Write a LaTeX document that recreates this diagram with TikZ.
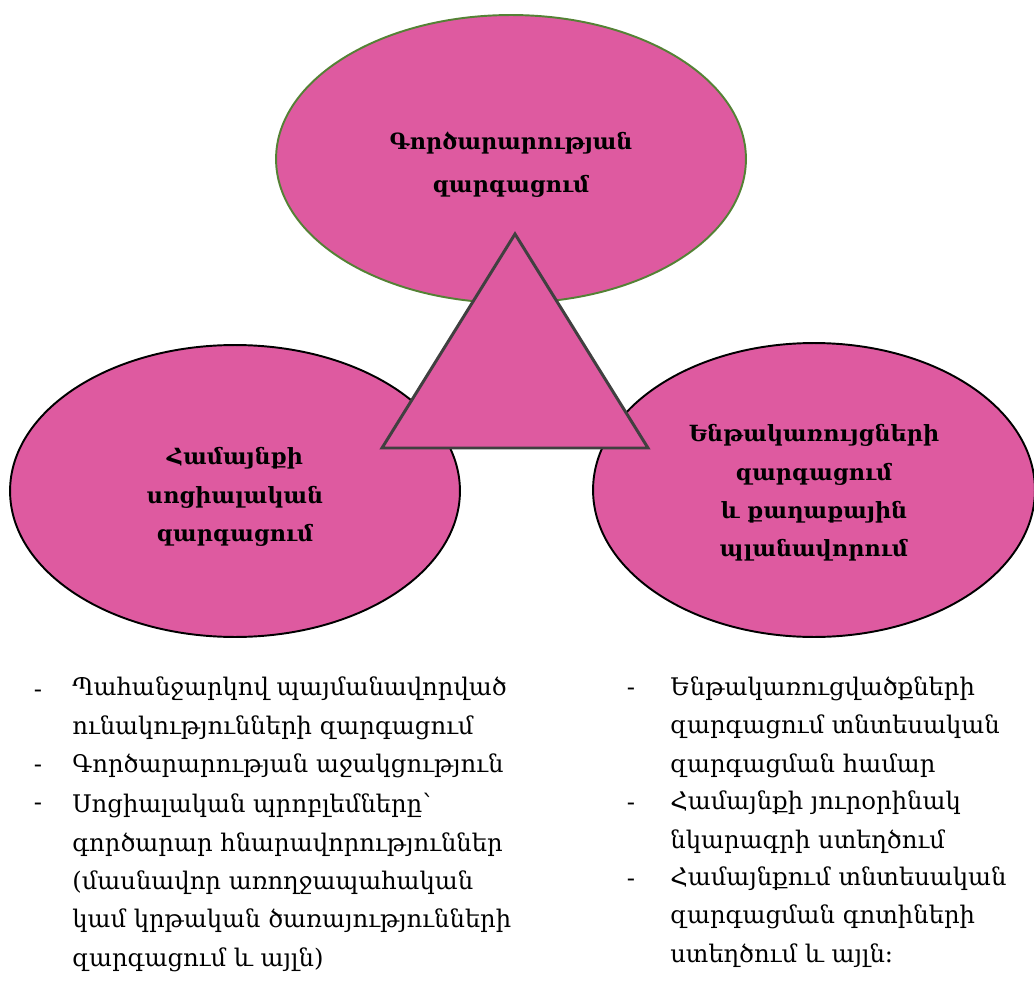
\documentclass[tikz,border=0pt]{standalone}
\usepackage{fontspec}
\setmainfont{DejaVu Serif}
\usetikzlibrary{shapes.geometric,positioning}

\definecolor{blobpink}{RGB}{222,90,160}
\definecolor{rimgreen}{RGB}{84,130,53}
\definecolor{rimgray}{RGB}{64,64,64}

\tikzset{
  blob/.style={ellipse, draw=black, line width=1.1pt, fill=blobpink,
    inner sep=0pt},
  blobtext/.style={align=center, inner sep=0pt,
    font=\bfseries\fontsize{12.7}{21.8}\selectfont},
  listitem/.style={anchor=base west, align=left, inner sep=0pt,
    font=\fontsize{13.8}{21.8}\selectfont},
  itemdash/.style={anchor=base, inner sep=0pt,
    font=\fontsize{13.8}{21.8}\selectfont}
}

\begin{document}
\begin{tikzpicture}[x=0.02cm, y=-0.02cm]
    \useasboundingbox (0, 0) rectangle (1034, 983);

    % the three fields
    \node [blob, draw=rimgreen, minimum width=9.4cm, minimum height=5.76cm]
      (biz) at (511, 159) {};
    \node [blob, minimum width=9cm, minimum height=5.84cm]
      (social) at (235, 491) {};
    \node [blob, minimum width=8.84cm, minimum height=5.88cm]
      (infra) at (814, 490) {};

    \node [blobtext, font=\bfseries\fontsize{12.7}{24.4}\selectfont]
      (biztext) at ([yshift=-0.12cm]biz.center) {Գործարարության\\զարգացում};
    \node [blobtext] (socialtext) at ([yshift=-0.12cm]social.center)
      {Համայնքի\\սոցիալական\\զարգացում};
    \node [blobtext] (infratext) at ([yshift=-0.06cm]infra.center)
      {Ենթակառույցների\\զարգացում\\և քաղաքային\\պլանավորում};

    % triangle in the middle
    \coordinate (apex) at (515, 234);
    \coordinate (bl) at (382, 448);
    \coordinate (br) at (648, 448);
    \draw [draw=rimgray, line width=1.7pt, fill=blobpink, line join=miter]
      (apex) -- (bl) -- (br) -- cycle;

    % left list (placed by the baseline of the last line)
    \node [listitem] (l1) at (72, 734) {Պահանջարկով պայմանավորված\\ունակությունների զարգացում};
    \node [listitem] (l2) at (72, 772) {Գործարարության աջակցություն};
    \node [listitem] (l3) at (72, 966) {Սոցիալական պրոբլեմները՝\\գործարար հնարավորություններ\\(մասնավոր առողջապահական\\կամ կրթական ծառայությունների\\զարգացում և այլն)};
    \foreach \y in {697, 772, 810}
      \node [itemdash] at (38, \y) {-};

    % right list
    \node [listitem] (r1) at (670, 772) {Ենթակառուցվածքների\\զարգացում տնտեսական\\զարգացման համար};
    \node [listitem] (r2) at (670, 848) {Համայնքի յուրօրինակ\\նկարագրի ստեղծում};
    \node [listitem] (r3) at (670, 962) {Համայնքում տնտեսական\\զարգացման գոտիների\\ստեղծում և այլն։};
    \foreach \y in {695, 810, 886}
      \node [itemdash] at (631, \y) {-};
  \end{tikzpicture}
\end{document}
